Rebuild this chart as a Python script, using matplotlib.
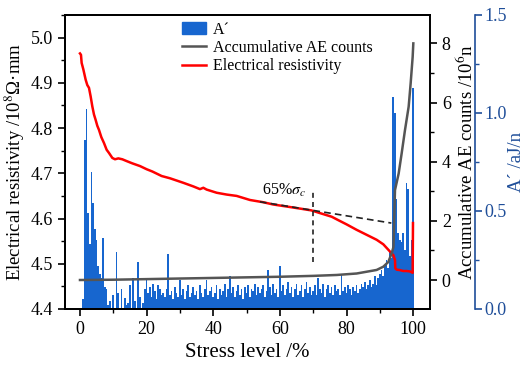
# Plot: electrical resistivity, accumulative AE counts and A' vs stress level
import matplotlib
matplotlib.use("Agg")
import matplotlib.pyplot as plt
from matplotlib.ticker import MultipleLocator
from matplotlib.patches import Patch

# Electrical resistivity curve (stress level %, 10^8 ohm*mm)
res_x = [0, 0.3, 0.5, 1.0, 1.7, 2.2, 2.7, 3.2, 3.7, 4.2, 4.7, 5.2, 5.7, 6.4, 7.2,
         8.0, 8.7, 9.7, 10.5, 11.5, 12.7, 14, 15.7, 18, 20, 21.7, 24.5, 27, 31,
         34, 36, 37, 38, 41, 44, 47, 51, 55, 58, 62.5, 66, 69.4, 72, 75.5, 77.6,
         80, 83, 86, 89, 91, 92, 93, 94, 94.5, 94.6, 95, 96, 97, 98, 99, 99.8, 99.9]
res_y = [4.965, 4.962, 4.944, 4.930, 4.907, 4.895, 4.889, 4.870, 4.848, 4.830,
         4.818, 4.805, 4.796, 4.780, 4.767, 4.752, 4.745, 4.734, 4.731, 4.733,
         4.731, 4.727, 4.722, 4.716, 4.709, 4.704, 4.694, 4.689, 4.679, 4.671,
         4.665, 4.668, 4.664, 4.657, 4.653, 4.650, 4.641, 4.636, 4.631, 4.626,
         4.622, 4.618, 4.612, 4.604, 4.596, 4.587, 4.575, 4.564, 4.553, 4.543,
         4.535, 4.527, 4.519, 4.508, 4.490, 4.487, 4.486, 4.484, 4.484, 4.483,
         4.480, 4.590]

# Accumulative AE counts (10^6 n)
ae_x = [0, 10, 20, 30, 40, 50, 60, 70, 77, 83, 89, 91, 92.5, 93.5, 94.05, 94.2,
        94.5, 95.6, 96.5, 97.5, 98.6, 99.2, 99.8, 100]
ae_y = [0, 0.01, 0.03, 0.05, 0.07, 0.09, 0.11, 0.14, 0.17, 0.22, 0.34, 0.45,
        0.61, 0.90, 1.12, 1.80, 3.04, 3.60, 4.28, 5.07, 5.86, 6.65, 7.54, 8.00]

# A' values (aJ/n), one bar every 0.5 % stress level
bar_step = 0.5
bar_h = [
    0, 0, 0.05, 0.86, 1.02, 0.49, 0.33, 0.70, 0.54, 0.41,
    0.35, 0.22, 0.18, 0.16, 0.36, 0.11, 0.10, 0.02, 0.04, 0.0,
    0.07, 0.0, 0.29, 0.08, 0.0, 0.10, 0.0, 0.055, 0.02, 0.03,
    0.12, 0.0, 0.16, 0.04, 0.0, 0.24, 0.06, 0.0, 0.03, 0.10,
    0.15, 0.08, 0.11, 0.06, 0.13, 0.09, 0.05, 0.12, 0.10, 0.07,
    0.08, 0.06, 0.10, 0.28, 0.07, 0.09, 0.05, 0.11, 0.08, 0.06,
    0.15, 0.07, 0.10, 0.05, 0.09, 0.12, 0.06, 0.08, 0.11, 0.07,
    0.09, 0.05, 0.12, 0.08, 0.06, 0.10, 0.15, 0.07, 0.09, 0.11,
    0.06, 0.08, 0.12, 0.05, 0.10, 0.07, 0.09, 0.13, 0.06, 0.10,
    0.17, 0.08, 0.11, 0.06, 0.09, 0.12, 0.07, 0.10, 0.05, 0.11,
    0.08, 0.12, 0.06, 0.10, 0.09, 0.13, 0.07, 0.11, 0.08, 0.10,
    0.12, 0.06, 0.09, 0.20, 0.11, 0.07, 0.13, 0.08, 0.10, 0.06,
    0.22, 0.09, 0.12, 0.07, 0.10, 0.14, 0.08, 0.11, 0.06, 0.10,
    0.13, 0.07, 0.09, 0.12, 0.06, 0.10, 0.14, 0.08, 0.11, 0.07,
    0.09, 0.12, 0.07, 0.16, 0.10, 0.08, 0.13, 0.06, 0.10, 0.12,
    0.08, 0.11, 0.07, 0.12, 0.09, 0.10, 0.07, 0.18, 0.09, 0.11,
    0.08, 0.12, 0.10, 0.07, 0.11, 0.09, 0.12, 0.08, 0.10, 0.13,
    0.11, 0.14, 0.10, 0.12, 0.15, 0.11, 0.13, 0.17, 0.12, 0.16,
    0.18, 0.20, 0.17, 0.22, 0.25, 0.21, 0.29, 0.26, 1.08, 1.00,
    0.56, 0.39, 0.35, 0.34, 0.39, 0.30, 0.645, 0.61, 0.27, 0.35,
    1.13,
]
bar_x = [i * bar_step for i in range(len(bar_h))]

# Annotation for 65 % sigma_c
tan_x = [54, 93.4]
tan_y = [4.637, 4.590]

# Colours
red = "#ff0000"
grey = "#555555"
bar_blue = "#1766cf"
axis_blue = "#1f4e99"

plt.rcParams["font.family"] = ["Liberation Serif", "DejaVu Serif"]
plt.rcParams["mathtext.fontset"] = "stix"
plt.rcParams["font.size"] = 13
plt.rcParams["axes.linewidth"] = 1.2

fig = plt.figure(figsize=(5.3, 3.73), dpi=100)
ax_bar = fig.add_axes([0.1226, 0.1716, 0.6887, 0.7882])
ax_res = ax_bar.twinx()
ax_ae = ax_bar.twinx()

# A' bars in the back
ax_bar.bar(bar_x, bar_h, width=0.5, color=bar_blue, linewidth=0)
ax_bar.set_ylim(0, 1.5)
ax_bar.yaxis.tick_right()
ax_bar.yaxis.set_label_position("right")
ax_bar.spines["right"].set_position(("axes", 1.123))
ax_bar.spines["right"].set_color(axis_blue)
ax_bar.yaxis.set_major_locator(MultipleLocator(0.5))
ax_bar.yaxis.set_minor_locator(MultipleLocator(0.25))
ax_bar.set_ylabel("A\u00b4 /aJ/n", color=axis_blue, fontsize=13.5, labelpad=1)

# x axis
ax_bar.set_xlim(-4.5, 105)
ax_bar.xaxis.set_major_locator(MultipleLocator(20))
ax_bar.xaxis.set_minor_locator(MultipleLocator(10))
ax_bar.set_xlabel("Stress level /%", fontsize=15, labelpad=4)

# Electrical resistivity on the left axis
ax_res.yaxis.tick_left()
ax_res.yaxis.set_label_position("left")
ax_res.plot(res_x, res_y, color=red, linewidth=1.8)
ax_res.plot(tan_x, tan_y, color="#222222", linewidth=1.2, linestyle=(0, (4, 2.5)))
ax_res.plot([70, 70], [4.505, 4.66], color="#222222", linewidth=1.2,
            linestyle=(0, (3, 2.5)))
ax_res.text(61.3, 4.663, "65%$\\sigma_c$", fontsize=11.5, ha="center", va="center")
ax_res.set_ylim(4.4, 5.05)
ax_res.yaxis.set_major_locator(MultipleLocator(0.1))
ax_res.yaxis.set_minor_locator(MultipleLocator(0.05))
ax_res.set_ylabel("Electrical resistivity /10$^{8}$\u03a9\u00b7mm", fontsize=13.5, labelpad=3)

# Accumulative AE counts on the inner right axis
ax_ae.plot(ae_x, ae_y, color=grey, linewidth=1.8)
ax_ae.set_ylim(-0.98, 8.96)
ax_ae.yaxis.set_major_locator(MultipleLocator(2))
ax_ae.yaxis.set_minor_locator(MultipleLocator(1))
ax_ae.set_ylabel("Accumulative AE counts /10$^{6}$n", fontsize=13.5, labelpad=3)

for a in (ax_bar, ax_res, ax_ae):
    a.tick_params(which="major", direction="out", length=5, width=1.2)
    a.tick_params(which="minor", direction="out", length=3, width=1.0)
ax_bar.tick_params(axis="y", which="both", colors=axis_blue, labelcolor=axis_blue, pad=2)

# Legend
handles = [
    Patch(color=bar_blue, label="A\u00b4"),
    plt.Line2D([], [], color=grey, linewidth=1.8, label="Accumulative AE counts"),
    plt.Line2D([], [], color=red, linewidth=1.8, label="Electrical resistivity"),
]
ax_ae.legend(handles=handles, loc="upper left", bbox_to_anchor=(0.295, 1.01),
             frameon=False, fontsize=11.5, handlelength=1.5, handletextpad=0.4,
             labelspacing=0.15, borderaxespad=0.2)

fig.savefig("out.png", dpi=100)
